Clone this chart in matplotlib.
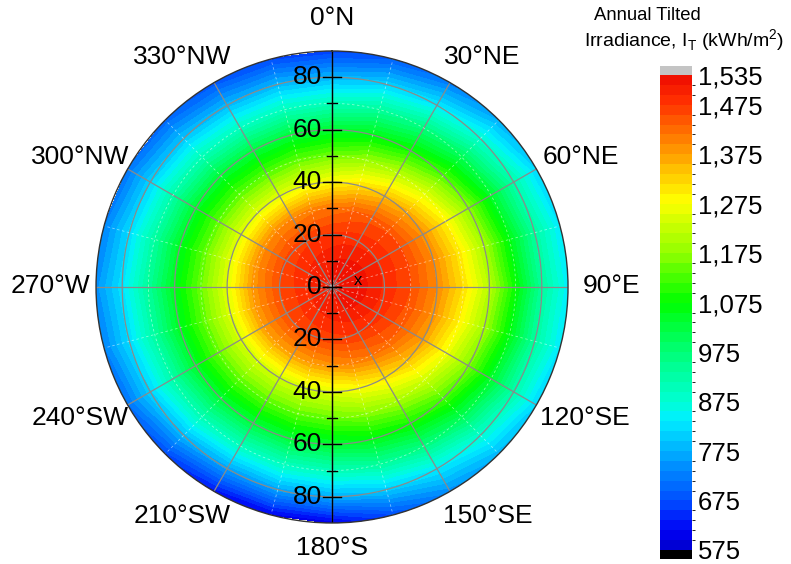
import numpy as np
import matplotlib
matplotlib.use("Agg")
import matplotlib.pyplot as plt
from matplotlib.colors import LinearSegmentedColormap, BoundaryNorm

plt.rcParams['font.family'] = ['Liberation Sans', 'DejaVu Sans']

# azimuth (deg, clockwise from N) and tilt (deg) of the grid
azimuth = np.arange(0, 360, 15)
tilt = [0, 10, 20, 30, 40, 50, 60, 70, 80, 90]

# annual tilted irradiance (kWh/m2), one row per tilt, columns follow azimuth
irr_t0 = [1520] * 24
irr_t10 = [1513, 1518, 1522, 1525, 1527, 1528, 1527, 1525, 1522, 1518, 1514, 1509,
           1504, 1499, 1495, 1492, 1490, 1489, 1490, 1492, 1495, 1499, 1503, 1508]
irr_t20 = [1478, 1483, 1487, 1490, 1492, 1492, 1491, 1488, 1485, 1480, 1475, 1470,
           1465, 1461, 1457, 1454, 1452, 1452, 1454, 1457, 1460, 1464, 1468, 1473]
irr_t30 = [1418, 1433, 1446, 1452, 1456, 1457, 1455, 1449, 1441, 1429, 1414, 1400,
           1385, 1376, 1370, 1372, 1376, 1379, 1382, 1385, 1387, 1392, 1396, 1407]
irr_t40 = [1281, 1312, 1342, 1366, 1386, 1392, 1393, 1385, 1371, 1340, 1302, 1273,
           1248, 1240, 1236, 1238, 1242, 1247, 1252, 1253, 1253, 1253, 1253, 1265]
irr_t50 = [1152, 1180, 1211, 1252, 1288, 1303, 1311, 1292, 1267, 1231, 1193, 1167,
           1144, 1139, 1136, 1138, 1142, 1145, 1148, 1144, 1139, 1135, 1131, 1140]
irr_t60 = [1034, 1058, 1085, 1127, 1168, 1192, 1208, 1188, 1160, 1122, 1084, 1058,
           1034, 1028, 1024, 1032, 1041, 1048, 1053, 1048, 1041, 1032, 1024, 1028]
irr_t70 = [903, 933, 963, 1002, 1038, 1060, 1075, 1060, 1038, 1002, 963, 933,
           903, 898, 895, 908, 921, 930, 938, 930, 921, 908, 895, 898]
irr_t80 = [777, 805, 831, 875, 917, 930, 935, 930, 917, 876, 834, 800,
           770, 762, 758, 783, 807, 818, 826, 818, 808, 795, 782, 780]
irr_t90 = [660, 690, 720, 770, 810, 830, 840, 830, 810, 780, 740, 670,
           600, 605, 620, 665, 710, 730, 745, 730, 715, 700, 680, 668]

# optimum marker
opt_az, opt_tilt = 77, 10.2

dir_labels = ['0°N', '30°NE', '60°NE', '90°E', '120°SE', '150°SE',
              '180°S', '210°SW', '240°SW', '270°W', '300°NW', '330°NW']
cbar_ticks = [575, 675, 775, 875, 975, 1075, 1175, 1275, 1375, 1475, 1535]

Z = np.array([irr_t0, irr_t10, irr_t20, irr_t30, irr_t40, irr_t50,
              irr_t60, irr_t70, irr_t80, irr_t90], dtype=float)
Z = np.hstack([Z, Z[:, :1]])                      # close the circle
th = np.deg2rad(np.append(azimuth, 360))
TH, R = np.meshgrid(th, tilt)

levels = np.arange(575, 1536, 20)
anchors = [(575, (0, 0, 190)), (620, (0, 0, 245)), (675, (0, 70, 255)),
           (775, (0, 170, 255)), (840, (0, 240, 255)), (880, (0, 255, 210)),
           (975, (0, 255, 120)), (1075, (0, 255, 0)), (1175, (150, 255, 0)),
           (1275, (255, 255, 0)), (1375, (255, 150, 0)), (1425, (255, 95, 0)),
           (1475, (255, 45, 0)), (1535, (232, 0, 0))]
cmap = LinearSegmentedColormap.from_list(
    'irr', [((v - 575) / 960, tuple(c / 255 for c in col)) for v, col in anchors], N=256)
cmap.set_under('black')
cmap.set_over('#c4c4c4')
norm = BoundaryNorm(levels, cmap.N, extend='both')

fig = plt.figure(figsize=(7.91, 5.64), dpi=100)
ax = fig.add_axes([0.1214, 0.0727, 0.5967, 0.8369], projection='polar')
ax.set_theta_zero_location('N')
ax.set_theta_direction(-1)

cs = ax.contourf(TH, R, Z, levels=levels, cmap=cmap, norm=norm, extend='both')
cs.set_edgecolor('face')
cs.set_linewidth(0.4)

ax.set_ylim(0, 90)
ax.set_xticks(np.deg2rad(np.arange(0, 360, 30)))
ax.set_xticklabels([])
ax.set_yticks([20, 40, 60, 80])
ax.set_yticklabels([])
ax.grid(True, color='#8a8a8a', lw=0.9)
ax.spines['polar'].set_color('#333333')
ax.spines['polar'].set_linewidth(1.0)

# minor dashed grid
tt = np.linspace(0, 2 * np.pi, 361)
for rr in [10, 30, 50, 70]:
    ax.plot(tt, np.full_like(tt, rr), color='white', lw=0.6, ls=(0, (3, 3)), alpha=0.5)
for a in np.arange(15, 360, 30):
    ax.plot([np.deg2rad(a)] * 2, [0, 90], color='white', lw=0.6, ls=(0, (3, 3)), alpha=0.5)

# vertical tilt axis with ticks and labels
ax.plot([0, 0], [0, 90], color='black', lw=1.0)
ax.plot([np.pi, np.pi], [0, 90], color='black', lw=1.0)
for r in range(0, 90, 10):
    half = 0.019 if r % 20 == 0 else 0.011
    for s in (1, -1):
        y = 0.5 + s * r / 180
        ax.plot([0.5 - half, 0.5 + half], [y, y], color='black', lw=1.0,
                transform=ax.transAxes)
for r in [0, 20, 40, 60, 80]:
    for s in ((1, -1) if r else (1,)):
        ax.text(0.5 - 0.021, 0.5 + s * r / 180, str(r), transform=ax.transAxes,
                ha='right', va='center', fontsize=19)

# direction labels around the rim (offsets from the centre in pixels)
lab_off = [(0, 269), (150, 230), (249, 130), (280, 1), (253, -131), (156, -229),
           (0, -261), (-150, -229), (-252, -131), (-282, 1), (-252, 130), (-150, 230)]
for lab, (dx, dy) in zip(dir_labels, lab_off):
    ax.text(0.5 + dx / 472, 0.5 + dy / 472, lab, transform=ax.transAxes,
            ha='center', va='center', fontsize=19)

ax.text(np.deg2rad(opt_az), opt_tilt, 'x', ha='center', va='center', fontsize=12)

cax = fig.add_axes([0.8344, 0.0089, 0.0405, 0.874])
cb = fig.colorbar(cs, cax=cax, extend='both', extendrect=True, extendfrac=0.019,
                  ticks=cbar_ticks)
cb.outline.set_visible(False)
cb.ax.tick_params(length=0, labelsize=18.5, pad=4)
cb.ax.set_yticklabels(['{:,}'.format(t) for t in cbar_ticks])

fig.text(0.751, 0.972, 'Annual Tilted', fontsize=13.3, ha='left', va='center')
fig.text(0.738, 0.928, 'Irradiance, I$_\\mathregular{T}$ (kWh/m$^\\mathregular{2}$)',
         fontsize=14, ha='left', va='center')

fig.savefig('out.png', dpi=100)
